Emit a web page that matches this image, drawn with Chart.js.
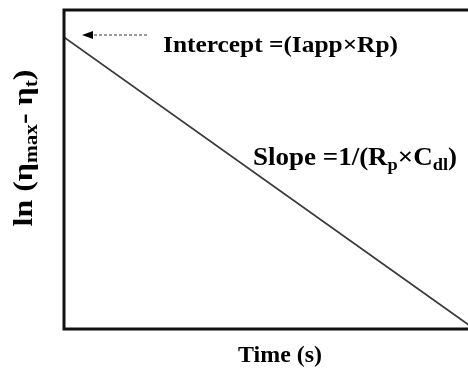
<!DOCTYPE html>
<html>
<head>
<meta charset="utf-8">
<script src="https://cdn.jsdelivr.net/npm/chart.js@4"></script>
<style>
  html, body { margin: 0; padding: 0; background: #fff; overflow: hidden; }
  #wrap { width: 474px; height: 375px; }
</style>
</head>
<body>
<div id="wrap"><canvas id="decayChart" width="474" height="375"></canvas></div>
<script>
// Linear decay of ln(overpotential difference) against time
const timeValues = [0, 9.9];
const lnValues = [9.15, 0.1];
const xRange = [0, 10];
const yRange = [0, 10];

const serif = '"Liberation Serif", "Times New Roman", serif';

// draws a run of text pieces (some lowered as subscripts), stretched to a given width
function drawRich(ctx, parts, x, y, align, width) {
  let total = 0;
  parts.forEach(p => {
    ctx.font = 'bold ' + p.size + 'px ' + serif;
    p.w = ctx.measureText(p.text).width;
    total += p.w;
  });
  const sx = width ? width / total : 1;
  ctx.save();
  ctx.translate(align === 'center' ? x - total * sx / 2 : x, y);
  ctx.scale(sx, 1);
  let cx = 0;
  parts.forEach(p => {
    ctx.font = 'bold ' + p.size + 'px ' + serif;
    ctx.fillText(p.text, cx, p.dy || 0);
    cx += p.w;
  });
  ctx.restore();
}

const frameAndLabels = {
  id: 'frameAndLabels',
  afterDraw(chart) {
    const ctx = chart.ctx;
    const a = chart.chartArea;
    ctx.save();

    // plot frame
    ctx.strokeStyle = '#111';
    ctx.lineWidth = 3;
    ctx.strokeRect(a.left, a.top, a.right - a.left, a.bottom - a.top);

    ctx.fillStyle = '#000';
    ctx.textBaseline = 'alphabetic';
    ctx.textAlign = 'left';

    // intercept pointer
    ctx.strokeStyle = '#333';
    ctx.lineWidth = 1;
    ctx.setLineDash([3, 2]);
    ctx.beginPath();
    ctx.moveTo(147, 35);
    ctx.lineTo(91, 35);
    ctx.stroke();
    ctx.setLineDash([]);
    ctx.beginPath();
    ctx.moveTo(82, 35);
    ctx.lineTo(93, 31);
    ctx.lineTo(93, 39);
    ctx.closePath();
    ctx.fill();

    drawRich(ctx, [{ text: 'Intercept =(Iapp\u00d7Rp)', size: 24 }], 163, 52, 'left', 235);

    drawRich(ctx, [
      { text: 'Slope =1/(R', size: 25 },
      { text: 'p', size: 17, dy: 5 },
      { text: '\u00d7C', size: 25 },
      { text: 'dl', size: 17, dy: 5 },
      { text: ')', size: 25 }
    ], 253, 165, 'left', 204);

    drawRich(ctx, [{ text: 'Time (s)', size: 23 }], 280, 362, 'center', 84);

    ctx.translate(32, 148);
    ctx.rotate(-Math.PI / 2);
    drawRich(ctx, [
      { text: 'ln (\u03b7', size: 27 },
      { text: 'max', size: 18, dy: 5 },
      { text: '- \u03b7', size: 27 },
      { text: 't', size: 18, dy: 5 },
      { text: ')', size: 27 }
    ], 0, 0, 'center', 157);

    ctx.restore();
  }
};

new Chart(document.getElementById('decayChart'), {
  type: 'line',
  data: {
    labels: timeValues,
    datasets: [{
      data: timeValues.map((t, i) => ({ x: t, y: lnValues[i] })),
      borderColor: '#3a3a3a',
      borderWidth: 1.7,
      pointRadius: 0,
      tension: 0
    }]
  },
  options: {
    responsive: false,
    animation: false,
    layout: { padding: { left: 64, top: 10, right: 0, bottom: 46 } },
    scales: {
      x: { type: 'linear', min: xRange[0], max: xRange[1], display: false },
      y: { min: yRange[0], max: yRange[1], display: false }
    },
    plugins: {
      legend: { display: false },
      tooltip: { enabled: false }
    }
  },
  plugins: [frameAndLabels]
});
</script>
</body>
</html>
